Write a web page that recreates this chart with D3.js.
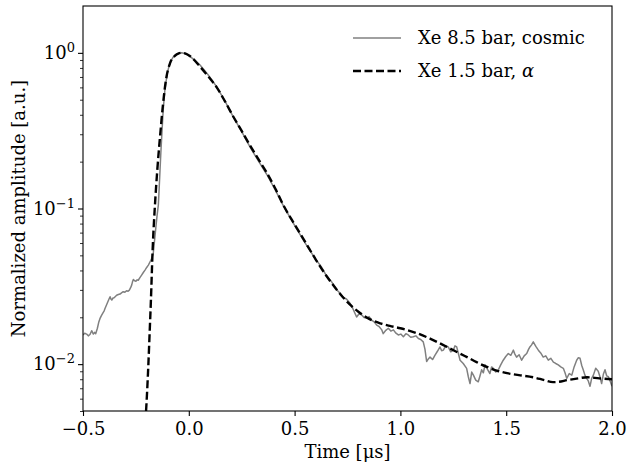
<!DOCTYPE html>
<html>
<head>
<meta charset="utf-8">
<script src="https://cdn.jsdelivr.net/npm/d3@7"></script>
<style>
  body { margin: 0; background: #fff; }
  svg text { font-family: "DejaVu Serif", serif; fill: #000; }
</style>
</head>
<body>
<svg id="svg" width="627" height="465"></svg>
<script>
// Xe 8.5 bar, cosmic (grey trace)
const cosmicTime = [
  -0.500, -0.492, -0.483, -0.475, -0.467, -0.459, -0.451, -0.445, -0.440, -0.432,
  -0.426, -0.420, -0.413, -0.407, -0.400, -0.396, -0.389, -0.383, -0.377, -0.372,
  -0.368, -0.364, -0.358, -0.353, -0.347, -0.341, -0.333, -0.325, -0.318, -0.310,
  -0.302, -0.294, -0.287, -0.281, -0.275, -0.270, -0.266, -0.262, -0.256, -0.250,
  -0.244, -0.239, -0.231, -0.223, -0.215, -0.207, -0.199, -0.191, -0.183, -0.175,
  -0.168, -0.163, -0.156, -0.150, -0.144, -0.140, -0.136, -0.132, -0.128, -0.121,
  -0.113, -0.102, -0.094, -0.086, -0.076, -0.066, -0.050, -0.034, -0.018, -0.003,
  0.025, 0.053, 0.092, 0.132, 0.171, 0.210, 0.250, 0.289, 0.328, 0.368,
  0.408, 0.447, 0.500, 0.550, 0.600, 0.625, 0.650, 0.675, 0.700, 0.715,
  0.730, 0.745, 0.762, 0.775, 0.793, 0.805, 0.817, 0.829, 0.841, 0.852,
  0.864, 0.876, 0.888, 0.900, 0.912, 0.919, 0.931, 0.943, 0.955, 0.967,
  0.979, 0.990, 1.002, 1.014, 1.026, 1.037, 1.049, 1.061, 1.073, 1.085,
  1.096, 1.108, 1.116, 1.124, 1.132, 1.140, 1.152, 1.163, 1.175, 1.187,
  1.195, 1.203, 1.214, 1.226, 1.238, 1.250, 1.258, 1.266, 1.274, 1.282,
  1.297, 1.313, 1.321, 1.329, 1.337, 1.345, 1.356, 1.368, 1.376, 1.384,
  1.392, 1.400, 1.411, 1.423, 1.431, 1.439, 1.451, 1.463, 1.474, 1.486,
  1.498, 1.510, 1.522, 1.534, 1.541, 1.549, 1.561, 1.573, 1.585, 1.597,
  1.605, 1.612, 1.620, 1.628, 1.640, 1.652, 1.663, 1.675, 1.687, 1.699,
  1.711, 1.723, 1.734, 1.746, 1.758, 1.770, 1.778, 1.786, 1.798, 1.810,
  1.821, 1.833, 1.841, 1.849, 1.857, 1.864, 1.872, 1.880, 1.888, 1.896,
  1.904, 1.912, 1.923, 1.935, 1.943, 1.951, 1.959, 1.967, 1.975, 1.983,
  1.991, 2.000
]
const cosmicAmp = [
  0.0154, 0.0158, 0.0156, 0.0152, 0.0155, 0.0164, 0.0156, 0.0160, 0.0157, 0.0170,
  0.0185, 0.0196, 0.0205, 0.0212, 0.0220, 0.0228, 0.0240, 0.0251, 0.0262, 0.0271,
  0.0262, 0.0258, 0.0266, 0.0267, 0.0272, 0.0277, 0.0280, 0.0282, 0.0287, 0.0292,
  0.0290, 0.0296, 0.0294, 0.0299, 0.0310, 0.0322, 0.0338, 0.0350, 0.0343, 0.0341,
  0.0348, 0.0346, 0.0360, 0.0373, 0.0388, 0.0402, 0.0418, 0.0433, 0.0455, 0.0478,
  0.0514, 0.0600, 0.0750, 0.0900, 0.1050, 0.1350, 0.1760, 0.2300, 0.2890, 0.4290,
  0.5770, 0.7380, 0.8150, 0.8770, 0.9300, 0.9680, 0.9900, 1.0000, 0.9900, 0.9680,
  0.9050, 0.8350, 0.7200, 0.6050, 0.4900, 0.3880, 0.3120, 0.2490, 0.2030, 0.1660,
  0.1320, 0.1040, 0.0780, 0.0600, 0.0470, 0.0425, 0.0370, 0.0338, 0.0300, 0.0285,
  0.0268, 0.0262, 0.0246, 0.0228, 0.0201, 0.0211, 0.0207, 0.0199, 0.0197, 0.0202,
  0.0192, 0.0187, 0.0178, 0.0174, 0.0166, 0.0157, 0.0165, 0.0170, 0.0163, 0.0166,
  0.0158, 0.0154, 0.0156, 0.0150, 0.0157, 0.0154, 0.0149, 0.0150, 0.0152, 0.0146,
  0.0144, 0.0139, 0.0125, 0.0104, 0.0108, 0.0111, 0.0107, 0.0114, 0.0121, 0.0129,
  0.0122, 0.0123, 0.0131, 0.0129, 0.0120, 0.0123, 0.0131, 0.0129, 0.0117, 0.0106,
  0.0101, 0.0094, 0.0083, 0.0075, 0.0089, 0.0085, 0.0079, 0.0077, 0.0084, 0.0092,
  0.0088, 0.0099, 0.0093, 0.0087, 0.0096, 0.0094, 0.0089, 0.0092, 0.0099, 0.0106,
  0.0112, 0.0117, 0.0114, 0.0123, 0.0116, 0.0111, 0.0115, 0.0106, 0.0113, 0.0117,
  0.0124, 0.0129, 0.0133, 0.0139, 0.0130, 0.0123, 0.0118, 0.0111, 0.0113, 0.0106,
  0.0109, 0.0103, 0.0101, 0.0099, 0.0096, 0.0094, 0.0088, 0.0081, 0.0087, 0.0085,
  0.0096, 0.0106, 0.0110, 0.0109, 0.0098, 0.0092, 0.0085, 0.0081, 0.0078, 0.0072,
  0.0081, 0.0085, 0.0094, 0.0090, 0.0083, 0.0075, 0.0086, 0.0092, 0.0084, 0.0083,
  0.0078, 0.0072
]

// Xe 1.5 bar, alpha (dashed trace)
const alphaTime = [
  -0.215, -0.202, -0.191, -0.185, -0.179, -0.171, -0.160, -0.149, -0.136, -0.123,
  -0.108, -0.089, -0.066, -0.050, -0.034, -0.015, 0.005, 0.053, 0.092, 0.132,
  0.171, 0.210, 0.250, 0.289, 0.328, 0.368, 0.408, 0.447, 0.500, 0.550,
  0.600, 0.650, 0.700, 0.750, 0.800, 0.850, 0.904, 0.950, 1.000, 1.078,
  1.140, 1.201, 1.260, 1.315, 1.360, 1.409, 1.455, 1.504, 1.560, 1.627,
  1.680, 1.721, 1.750, 1.787, 1.840, 1.882, 1.940, 2.000
]
const alphaAmp = [
  0.0030, 0.0050, 0.0100, 0.0160, 0.0258, 0.0540, 0.1050, 0.1760, 0.2890, 0.4510,
  0.6690, 0.8560, 0.9550, 0.9900, 1.0000, 0.9900, 0.9550, 0.8150, 0.7050, 0.6000,
  0.4880, 0.3900, 0.3150, 0.2550, 0.2080, 0.1700, 0.1350, 0.1050, 0.0790, 0.0610,
  0.0470, 0.0370, 0.0300, 0.0250, 0.0218, 0.0196, 0.0183, 0.0176, 0.0170, 0.0158,
  0.0146, 0.0133, 0.0121, 0.0111, 0.0103, 0.0096, 0.0091, 0.00875, 0.0085, 0.00824,
  0.0079, 0.00766, 0.0077, 0.00789, 0.0081, 0.00824, 0.0081, 0.0080
]

const xTicks = [-0.5, 0, 0.5, 1, 1.5, 2]
const xTickLabels = ['\u22120.5', '0.0', '0.5', '1.0', '1.5', '2.0']
const yTicks = [0.01, 0.1, 1]
const yTickExps = ['\u22122', '\u22121', '0']
const yMinorTicks = [0.005, 0.006, 0.007, 0.008, 0.009, 0.02, 0.03, 0.04, 0.05, 0.06,
  0.07, 0.08, 0.09, 0.2, 0.3, 0.4, 0.5, 0.6, 0.7, 0.8, 0.9]
const seriesNames = ['Xe 8.5 bar, cosmic', 'Xe 1.5 bar, ']

const width = 627
const height = 465
const margin = { top: 6, right: 15, bottom: 54, left: 83 }
const fontSize = 18

const svg = d3.select('#svg')

const xScale = d3.scaleLinear()
  .domain([-0.5, 2.0])
  .range([margin.left, width - margin.right])

const yScale = d3.scaleLog()
  .domain([0.005, 2])
  .range([height - margin.bottom, margin.top])

svg.append('defs').append('clipPath')
  .attr('id', 'clip')
  .append('rect')
  .attr('x', margin.left)
  .attr('y', margin.top)
  .attr('width', width - margin.left - margin.right)
  .attr('height', height - margin.top - margin.bottom)

const lineGen = d3.line()
  .x(d => xScale(d[0]))
  .y(d => yScale(d[1]))

const cosmic = cosmicTime.map((t, i) => [t, cosmicAmp[i]])
const alpha = alphaTime.map((t, i) => [t, alphaAmp[i]])

const plot = svg.append('g').attr('clip-path', 'url(#clip)')

plot.append('path')
  .attr('d', lineGen(cosmic))
  .attr('fill', 'none')
  .attr('stroke', '#808080')
  .attr('stroke-width', 1.5)
  .attr('stroke-linejoin', 'round')

plot.append('path')
  .attr('d', lineGen.curve(d3.curveMonotoneX)(alpha))
  .attr('fill', 'none')
  .attr('stroke', '#000')
  .attr('stroke-width', 2.4)
  .attr('stroke-dasharray', '8,3.5')

// axes
const xAxis = d3.axisBottom(xScale)
  .tickValues(xTicks)
  .tickFormat((d, i) => xTickLabels[i])
  .tickSizeInner(5)
  .tickSizeOuter(0)
  .tickPadding(6)

const gx = svg.append('g')
  .attr('transform', `translate(0, ${height - margin.bottom})`)
  .call(xAxis)

gx.select('.domain').remove()
gx.selectAll('.tick line').attr('stroke-width', 1.1)
gx.selectAll('.tick text')
  .attr('font-size', fontSize)

const yAxis = d3.axisLeft(yScale)
  .tickValues(yTicks)
  .tickFormat('')
  .tickSizeInner(5)
  .tickSizeOuter(0)
  .tickPadding(3)

const gy = svg.append('g')
  .attr('transform', `translate(${margin.left}, 0)`)
  .call(yAxis)

gy.select('.domain').remove()
gy.selectAll('.tick line').attr('stroke-width', 1.1)
gy.selectAll('.tick text')
  .attr('font-size', fontSize)
  .attr('x', -8)
  .each(function (d, i) {
    const txt = d3.select(this)
    txt.append('tspan').text('10')
    txt.append('tspan')
      .attr('font-size', 13)
      .attr('dy', '-0.55em')
      .text(yTickExps[i])
  })

const gyMinor = svg.append('g')
  .attr('transform', `translate(${margin.left}, 0)`)
  .call(d3.axisLeft(yScale).tickValues(yMinorTicks).tickFormat('').tickSizeInner(3).tickSizeOuter(0))

gyMinor.select('.domain').remove()
gyMinor.selectAll('.tick line').attr('stroke-width', 0.8)

// frame
svg.append('rect')
  .attr('x', margin.left)
  .attr('y', margin.top)
  .attr('width', width - margin.left - margin.right)
  .attr('height', height - margin.top - margin.bottom)
  .attr('fill', 'none')
  .attr('stroke', '#000')
  .attr('stroke-width', 1.1)

// axis labels
svg.append('text')
  .attr('x', (margin.left + width - margin.right) / 2)
  .attr('y', 458)
  .attr('text-anchor', 'middle')
  .attr('font-size', fontSize)
  .text('Time [\u03bcs]')

svg.append('text')
  .attr('transform', `translate(25, ${(margin.top + height - margin.bottom) / 2}) rotate(-90)`)
  .attr('text-anchor', 'middle')
  .attr('font-size', fontSize)
  .text('Normalized amplitude [a.u.]')

// legend
const legend = svg.append('g')

legend.append('line')
  .attr('x1', 353).attr('x2', 401)
  .attr('y1', 38).attr('y2', 38)
  .attr('stroke', '#808080')
  .attr('stroke-width', 1.5)

legend.append('line')
  .attr('x1', 353).attr('x2', 401)
  .attr('y1', 71).attr('y2', 71)
  .attr('stroke', '#000')
  .attr('stroke-width', 2.4)
  .attr('stroke-dasharray', '8,3.5')

legend.append('text')
  .attr('x', 418)
  .attr('y', 38)
  .attr('dy', '0.32em')
  .attr('font-size', fontSize)
  .text(seriesNames[0])

const alphaLabel = legend.append('text')
  .attr('x', 418)
  .attr('y', 71)
  .attr('dy', '0.32em')
  .attr('font-size', fontSize)

alphaLabel.append('tspan').text(seriesNames[1])
alphaLabel.append('tspan').attr('font-style', 'italic').text('\u03b1')
</script>
</body>
</html>
